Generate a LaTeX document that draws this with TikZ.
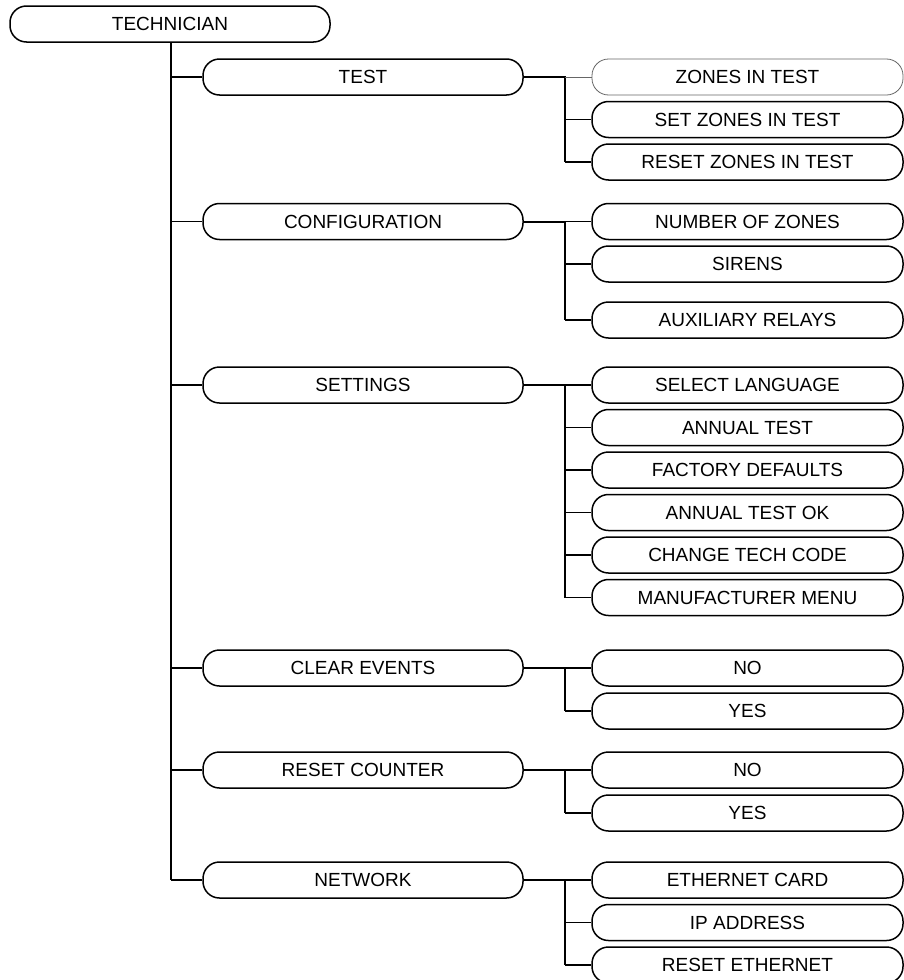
\documentclass[tikz,border=0pt]{standalone}
\usepackage{fontspec}
\setmainfont{Liberation Sans}
\begin{document}
\begin{tikzpicture}[x=1pt,y=-1pt,
  menubox/.style={draw, line width=1.5pt, rounded corners=16.5pt, minimum height=36pt, inner sep=0pt, font=\fontsize{19}{22}\selectfont},
  lvlzero/.style={menubox, minimum width=320pt},
  lvlone/.style={menubox, minimum width=320pt},
  lvltwo/.style={menubox, minimum width=311pt},
  faint/.style={draw=black!60, line width=0.8pt},
  trunk/.style={line width=2.2pt},
  branch/.style={line width=1.5pt},
  subtrunk/.style={line width=2pt}]
\useasboundingbox (0,0) rectangle (904,980);

\node[lvlzero] (tech) at (170,24) {TECHNICIAN};

\node[lvlone] (test) at (363,77) {TEST};
\node[lvlone] (conf) at (363,221.5) {CONFIGURATION};
\node[lvlone] (sett) at (363,385) {SETTINGS};
\node[lvlone] (clr) at (363,668) {CLEAR EVENTS};
\node[lvlone] (rst) at (363,770) {RESET COUNTER};
\node[lvlone] (net) at (363,880) {NETWORK};

\node[lvltwo, faint] (t1) at (747.5,77) {ZONES IN TEST};
\node[lvltwo] (t2) at (747.5,119.5) {SET ZONES IN TEST};
\node[lvltwo] (t3) at (747.5,162) {RESET ZONES IN TEST};

\node[lvltwo] (c1) at (747.5,221.5) {NUMBER OF ZONES};
\node[lvltwo] (c2) at (747.5,264) {SIRENS};
\node[lvltwo] (c3) at (747.5,320) {AUXILIARY RELAYS};

\node[lvltwo] (s1) at (747.5,385) {SELECT LANGUAGE};
\node[lvltwo] (s2) at (747.5,427.5) {ANNUAL TEST};
\node[lvltwo] (s3) at (747.5,470) {FACTORY DEFAULTS};
\node[lvltwo] (s4) at (747.5,512.5) {ANNUAL TEST OK};
\node[lvltwo] (s5) at (747.5,555) {CHANGE TECH CODE};
\node[lvltwo] (s6) at (747.5,597.5) {MANUFACTURER MENU};

\node[lvltwo] (e1) at (747.5,668) {NO};
\node[lvltwo] (e2) at (747.5,711) {YES};

\node[lvltwo] (r1) at (747.5,770) {NO};
\node[lvltwo] (r2) at (747.5,813) {YES};

\node[lvltwo] (n1) at (747.5,880) {ETHERNET CARD};
\node[lvltwo] (n2) at (747.5,922.5) {IP ADDRESS};
\node[lvltwo] (n3) at (747.5,965) {RESET ETHERNET};

% main trunk
\coordinate (mt) at ([xshift=1pt]tech.south);
\draw[trunk] (mt) -- (mt |- net.west);
\foreach \n in {test,conf,sett,clr,rst,net}
  \draw[branch] (mt |- \n.west) -- (\n.west);

% sub trunks
\coordinate (jt) at (565,0);
\draw[subtrunk] (test.east) -- (jt |- test.east) -- (jt |- t3.west);
\draw[faint] (jt |- t1.west) -- (t1.west);
\foreach \n in {t2,t3} \draw[branch] (jt |- \n.west) -- (\n.west);

\draw[subtrunk] (conf.east) -- (jt |- conf.east) -- (jt |- c3.west);
\foreach \n in {c1,c2,c3} \draw[branch] (jt |- \n.west) -- (\n.west);

\draw[subtrunk] (sett.east) -- (jt |- sett.east);
\draw[line width=2.6pt] (jt |- sett.east) -- (jt |- s6.west);
\foreach \n in {s1,s2,s3,s4,s5,s6} \draw[branch] (jt |- \n.west) -- (\n.west);

\draw[subtrunk] (clr.east) -- (jt |- clr.east) -- (jt |- e2.west);
\foreach \n in {e1,e2} \draw[branch] (jt |- \n.west) -- (\n.west);

\draw[subtrunk] (rst.east) -- (jt |- rst.east) -- (jt |- r2.west);
\foreach \n in {r1,r2} \draw[branch] (jt |- \n.west) -- (\n.west);

\draw[subtrunk] (net.east) -- (jt |- net.east) -- (jt |- n3.west);
\foreach \n in {n1,n2,n3} \draw[branch] (jt |- \n.west) -- (\n.west);
\end{tikzpicture}
\end{document}
